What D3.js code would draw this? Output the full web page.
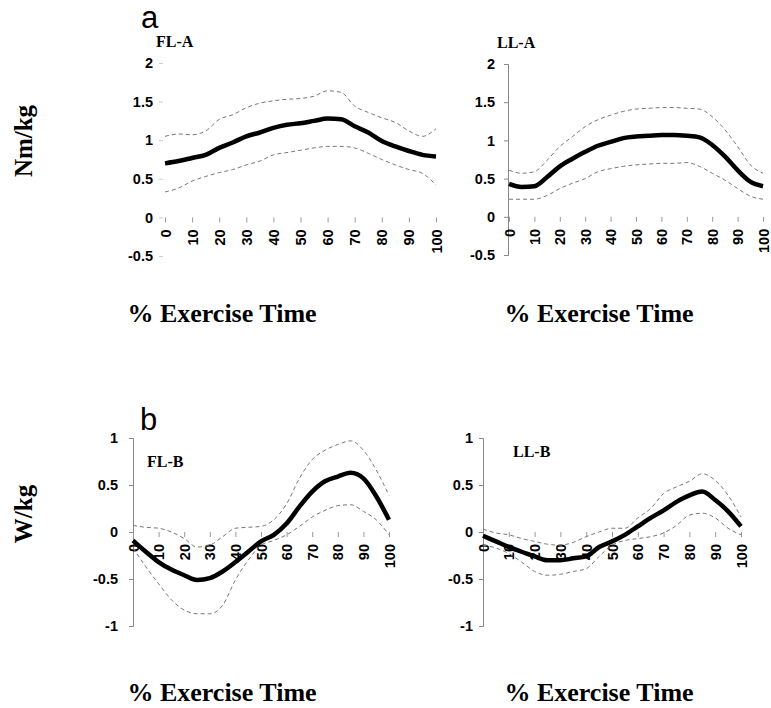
<!DOCTYPE html>
<html>
<head>
<meta charset="utf-8">
<script src="https://cdn.jsdelivr.net/npm/d3@7"></script>
<style>
  body { margin: 0; background: #fff; }
  svg { display: block; }
  .tick text { font-family: Arial, "Liberation Sans", sans-serif; font-weight: bold; font-size: 14.5px; fill: #000; }
  .lbl { font-family: "Times New Roman", "Liberation Serif", serif; font-weight: bold; fill: #000; }
</style>
</head>
<body>
<div id="chart"></div>
<script>
// % exercise time sample points
var pct = [0, 5, 10, 15, 20, 25, 30, 35, 40, 45, 50, 55, 60, 65, 70, 75, 80, 85, 90, 95, 100];

// a: joint moment (Nm/kg)
var flaMean  = [0.70, 0.73, 0.77, 0.81, 0.90, 0.97, 1.05, 1.10, 1.16, 1.20, 1.22, 1.25, 1.28, 1.27, 1.18, 1.10, 0.99, 0.92, 0.86, 0.81, 0.79];
var flaUpper = [1.05, 1.08, 1.07, 1.12, 1.27, 1.33, 1.42, 1.48, 1.51, 1.53, 1.54, 1.57, 1.64, 1.62, 1.44, 1.36, 1.29, 1.23, 1.12, 1.05, 1.15];
var flaLower = [0.33, 0.38, 0.47, 0.53, 0.58, 0.62, 0.68, 0.73, 0.81, 0.84, 0.87, 0.90, 0.92, 0.92, 0.90, 0.83, 0.75, 0.68, 0.62, 0.57, 0.42];

var llaMean  = [0.43, 0.39, 0.40, 0.52, 0.66, 0.76, 0.85, 0.93, 0.98, 1.03, 1.05, 1.06, 1.07, 1.07, 1.06, 1.04, 0.94, 0.79, 0.61, 0.46, 0.40];
var llaUpper = [0.61, 0.57, 0.59, 0.74, 0.92, 1.05, 1.18, 1.27, 1.33, 1.38, 1.41, 1.42, 1.43, 1.43, 1.42, 1.41, 1.31, 1.14, 0.92, 0.68, 0.57];
var llaLower = [0.23, 0.23, 0.23, 0.28, 0.37, 0.44, 0.50, 0.59, 0.63, 0.66, 0.68, 0.69, 0.70, 0.70, 0.71, 0.66, 0.57, 0.48, 0.37, 0.27, 0.23];

// b: joint power (W/kg)
var flbMean  = [-0.09, -0.21, -0.32, -0.40, -0.46, -0.51, -0.49, -0.42, -0.32, -0.21, -0.10, -0.03, 0.09, 0.27, 0.43, 0.54, 0.59, 0.63, 0.57, 0.38, 0.13];
var flbUpper = [0.07, 0.05, 0.04, 0.00, -0.07, -0.16, -0.14, -0.05, 0.04, 0.05, 0.06, 0.13, 0.30, 0.57, 0.77, 0.87, 0.93, 0.97, 0.87, 0.66, 0.39];
var flbLower = [-0.17, -0.37, -0.55, -0.72, -0.83, -0.87, -0.87, -0.78, -0.51, -0.30, -0.14, -0.09, -0.03, 0.06, 0.16, 0.23, 0.28, 0.29, 0.22, 0.13, -0.03];

var llbMean  = [-0.04, -0.10, -0.16, -0.21, -0.26, -0.30, -0.30, -0.28, -0.26, -0.16, -0.10, -0.03, 0.06, 0.15, 0.23, 0.32, 0.39, 0.43, 0.34, 0.22, 0.06];
var llbUpper = [0.03, -0.01, -0.03, -0.07, -0.10, -0.13, -0.14, -0.11, -0.05, 0.00, 0.04, 0.04, 0.15, 0.25, 0.41, 0.48, 0.54, 0.62, 0.55, 0.39, 0.16];
var llbLower = [-0.14, -0.17, -0.23, -0.32, -0.42, -0.46, -0.45, -0.42, -0.39, -0.26, -0.14, -0.09, -0.07, -0.05, -0.01, 0.07, 0.18, 0.20, 0.15, 0.04, -0.03];

var xTicks = [0, 10, 20, 30, 40, 50, 60, 70, 80, 90, 100];
var yTicksA = [-0.5, 0, 0.5, 1, 1.5, 2];
var yTicksB = [-1, -0.5, 0, 0.5, 1];

var width = 771, height = 708;

var svg = d3.select("#chart")
    .append("svg")
    .attr("width", width)
    .attr("height", height);

// one panel = axes + mean line + two dashed bounds
function drawPanel(p) {
    var x = d3.scaleLinear().domain([0, 100]).range([p.x0, p.x1]);
    var y = d3.scaleLinear().domain(p.yDomain).range([p.yBottom, p.yTop]);
    var g = svg.append("g");

    // y axis
    var yAxis = g.append("g")
        .attr("transform", "translate(" + p.axisX + ",0)")
        .call(d3.axisLeft(y).tickValues(p.yTicks).tickSize(4).tickPadding(p.yPad)
            .tickFormat(function (d) { return String(d); }));
    yAxis.select(".domain").attr("stroke", p.hideAxis ? "none" : "#888");
    yAxis.selectAll(".tick line").attr("stroke", p.hideAxis ? "#ccc" : "#888");

    // x axis sits on y = 0, rotated labels
    var xAxis = g.append("g")
        .attr("transform", "translate(0," + y(0) + ")")
        .call(d3.axisBottom(x).tickValues(xTicks).tickSize(5).tickSizeOuter(0));
    xAxis.select(".domain").remove();
    xAxis.selectAll(".tick line").attr("stroke", "#999");
    xAxis.selectAll(".tick text")
        .attr("transform", "rotate(-90)")
        .attr("text-anchor", "end")
        .attr("x", -12)
        .attr("y", 0)
        .attr("dy", "0.35em");

    var line = d3.line()
        .x(function (d, i) { return x(pct[i]); })
        .y(function (d) { return y(d); })
        .curve(d3.curveMonotoneX);

    [p.upper, p.lower].forEach(function (s) {
        g.append("path")
            .datum(s)
            .attr("fill", "none")
            .attr("stroke", "#777")
            .attr("stroke-width", 1)
            .attr("stroke-dasharray", "4,3")
            .attr("d", line);
    });

    g.append("path")
        .datum(p.mean)
        .attr("fill", "none")
        .attr("stroke", "#000")
        .attr("stroke-width", 4.5)
        .attr("stroke-linejoin", "round")
        .attr("d", line);

    g.append("text")
        .attr("class", "lbl")
        .attr("x", p.titleX)
        .attr("y", p.titleY)
        .style("font-size", "16px")
        .text(p.title);
}

drawPanel({ title: "FL-A", titleX: 156, titleY: 47, x0: 165, x1: 436, axisX: 163, hideAxis: true, yPad: 6,
    yDomain: [-0.5, 2], yBottom: 256, yTop: 63, yTicks: yTicksA, mean: flaMean, upper: flaUpper, lower: flaLower });
drawPanel({ title: "LL-A", titleX: 497, titleY: 48, x0: 509, x1: 763, axisX: 508, yPad: 9,
    yDomain: [-0.5, 2], yBottom: 255, yTop: 64, yTicks: yTicksA, mean: llaMean, upper: llaUpper, lower: llaLower });
drawPanel({ title: "FL-B", titleX: 147, titleY: 467, x0: 133, x1: 389, axisX: 133, yPad: 11,
    yDomain: [-1, 1], yBottom: 626, yTop: 438, yTicks: yTicksB, mean: flbMean, upper: flbUpper, lower: flbLower });
drawPanel({ title: "LL-B", titleX: 513, titleY: 457, x0: 483, x1: 741, axisX: 483, yPad: 6,
    yDomain: [-1, 1], yBottom: 626, yTop: 438, yTicks: yTicksB, mean: llbMean, upper: llbUpper, lower: llbLower });

// panel letters
svg.append("text").attr("x", 141).attr("y", 28)
    .style("font-family", "Arial, 'Liberation Sans', sans-serif").style("font-size", "31px").text("a");
svg.append("text").attr("x", 140).attr("y", 430)
    .style("font-family", "Arial, 'Liberation Sans', sans-serif").style("font-size", "31px").text("b");

// axis titles
[[222, 322], [599, 322], [222, 701], [599, 701]].forEach(function (pos) {
    svg.append("text")
        .attr("class", "lbl")
        .attr("x", pos[0])
        .attr("y", pos[1])
        .attr("text-anchor", "middle")
        .style("font-size", "26px")
        .text("% Exercise Time");
});

svg.append("text")
    .attr("class", "lbl")
    .attr("transform", "translate(32,141) rotate(-90)")
    .attr("text-anchor", "middle")
    .style("font-size", "25px")
    .text("Nm/kg");
svg.append("text")
    .attr("class", "lbl")
    .attr("transform", "translate(32,514) rotate(-90)")
    .attr("text-anchor", "middle")
    .style("font-size", "25px")
    .text("W/kg");
</script>
</body>
</html>
